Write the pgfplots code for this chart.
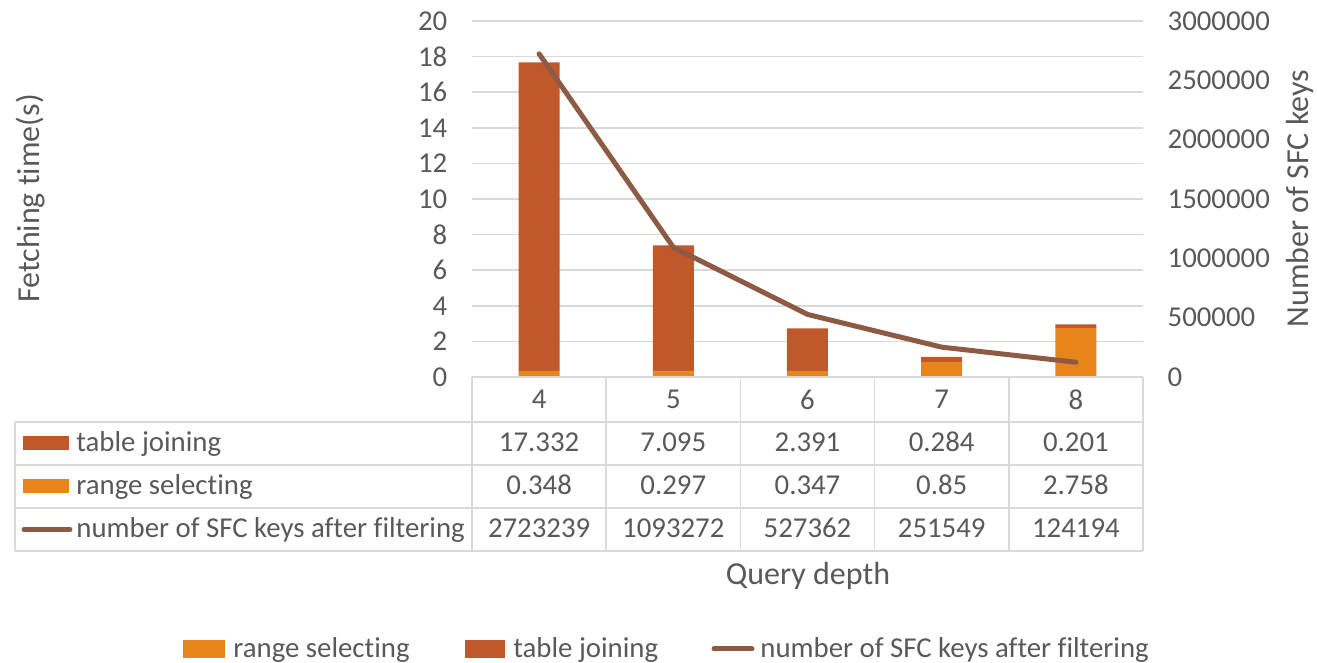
\documentclass[border=0pt]{standalone}
\usepackage{pgfplots}
\pgfplotsset{compat=1.18}
\usepackage{pgfplotstable}
\usepackage{fontspec}
\setmainfont{Carlito}[Ligatures={NoCommon,NoRequired,NoContextual}]

\definecolor{txt}{HTML}{595959}
\definecolor{gridc}{HTML}{D9D9D9}
\definecolor{joinc}{HTML}{C0582B}
\definecolor{rangec}{HTML}{E6861A}
\definecolor{keyc}{HTML}{8D5A44}

% fetching times (s) per query depth and number of SFC keys after filtering
\pgfplotstableread{
depth range join keys
4 0.348 17.332 2723239
5 0.297 7.095 1093272
6 0.347 2.391 527362
7 0.85 0.284 251549
8 2.758 0.201 124194
}\fetch

\newcommand{\lbl}{\fontsize{14.4pt}{17pt}\selectfont}
\newcommand{\ttl}{\fontsize{16pt}{19pt}\selectfont}

\begin{document}
\begin{tikzpicture}[font=\lbl, text=txt,
  cell/.style={inner sep=0pt, text height=0.68em, text depth=0.18em, yshift=-1.5pt}]

\pgfplotsset{
  common/.style={
    at={(0,0)}, anchor=south west,
    scale only axis, width=335.5pt, height=178pt,
    xmin=3.5, xmax=8.5,
    major tick length=0pt,
    axis line style={draw=none},
    tick label style={font=\lbl, text=txt, /pgf/number format/assume math mode=true},
    clip=false,
  }
}

% stacked bars: fetching time on the left axis
\begin{axis}[common,
  ymin=0, ymax=20, ytick distance=2,
  axis x line*=bottom, axis y line*=left,
  ybar stacked, bar width=20.5pt,
  xtick=data,
  ymajorgrids, grid style={gridc, line width=0.75pt},
  yticklabel style={xshift=-8.8pt},
  xticklabel style={anchor=center, yshift=-11.25pt},
]
\addplot[fill=rangec, draw=none] table[x=depth, y=range]{\fetch};
\addplot[fill=joinc, draw=none] table[x=depth, y=join]{\fetch};
\end{axis}

% line: number of SFC keys on the right axis
\begin{axis}[common,
  ymin=0, ymax=3000000,
  ytick={0,500000,1000000,1500000,2000000,2500000,3000000},
  axis y line*=right, axis x line=none,
  scaled y ticks=false,
  yticklabel style={/pgf/number format/fixed, /pgf/number format/1000 sep={}, xshift=8.8pt},
]
\addplot[keyc, line width=2.5pt, line cap=round, line join=round] table[x=depth, y=keys]{\fetch};
\end{axis}

% data table, titles and legend (units: 0.5pt, y downwards)
\begin{scope}[shift={(-236pt,188.5pt)}, x=0.5pt, y=-0.5pt]
  \begin{scope}[gridc, line width=0.75pt]
    \draw (472,377) -- (1143,377);
    \foreach \y in {422,465,508,551} \draw (15,\y) -- (1143,\y);
    \draw (15,422) -- (15,551);
    \foreach \x in {472,606.2,740.4,874.6,1008.8,1143} \draw (\x,377) -- (\x,551);
  \end{scope}

  \fill[joinc] (23,436) rectangle (69,450);
  \fill[rangec] (23,479.5) rectangle (69,493.5);
  \draw[keyc, line width=2.5pt, line cap=round] (24,529.5) -- (70,529.5);
  \node[cell, anchor=west] at (76,443.5) {table joining};
  \node[cell, anchor=west] at (76,486.5) {range selecting};
  \node[cell, anchor=west] at (76,529.5) {number of SFC keys after filtering};

  \foreach \i in {0,...,4}{
    \pgfmathsetmacro\cx{539.1+134.2*\i}
    \pgfplotstablegetelem{\i}{join}\of\fetch
    \node[cell] at (\cx,443.5) {\pgfplotsretval};
    \pgfplotstablegetelem{\i}{range}\of\fetch
    \node[cell] at (\cx,486.5) {\pgfplotsretval};
    \pgfplotstablegetelem{\i}{keys}\of\fetch
    \node[cell] at (\cx,529.5) {\pgfplotsretval};
  }

  \node[font=\ttl, rotate=90] at (31,198.5) {Fetching time(s)};
  \node[font=\ttl, rotate=90] at (1300,198.5) {Number of SFC keys};
  \node[font=\ttl] at (808,576) {Query depth};

  \fill[rangec] (183,640) rectangle (225,658);
  \node[cell, anchor=west] at (233,649) {range selecting};
  \fill[joinc] (465,640) rectangle (505,658);
  \node[cell, anchor=west] at (513,649) {table joining};
  \draw[keyc, line width=2.5pt, line cap=round] (714,649) -- (752,649);
  \node[cell, anchor=west] at (760,649) {number of SFC keys after filtering};

  \pgfresetboundingbox
  \path (0,0) rectangle (1317,663);
\end{scope}
\end{tikzpicture}
\end{document}
